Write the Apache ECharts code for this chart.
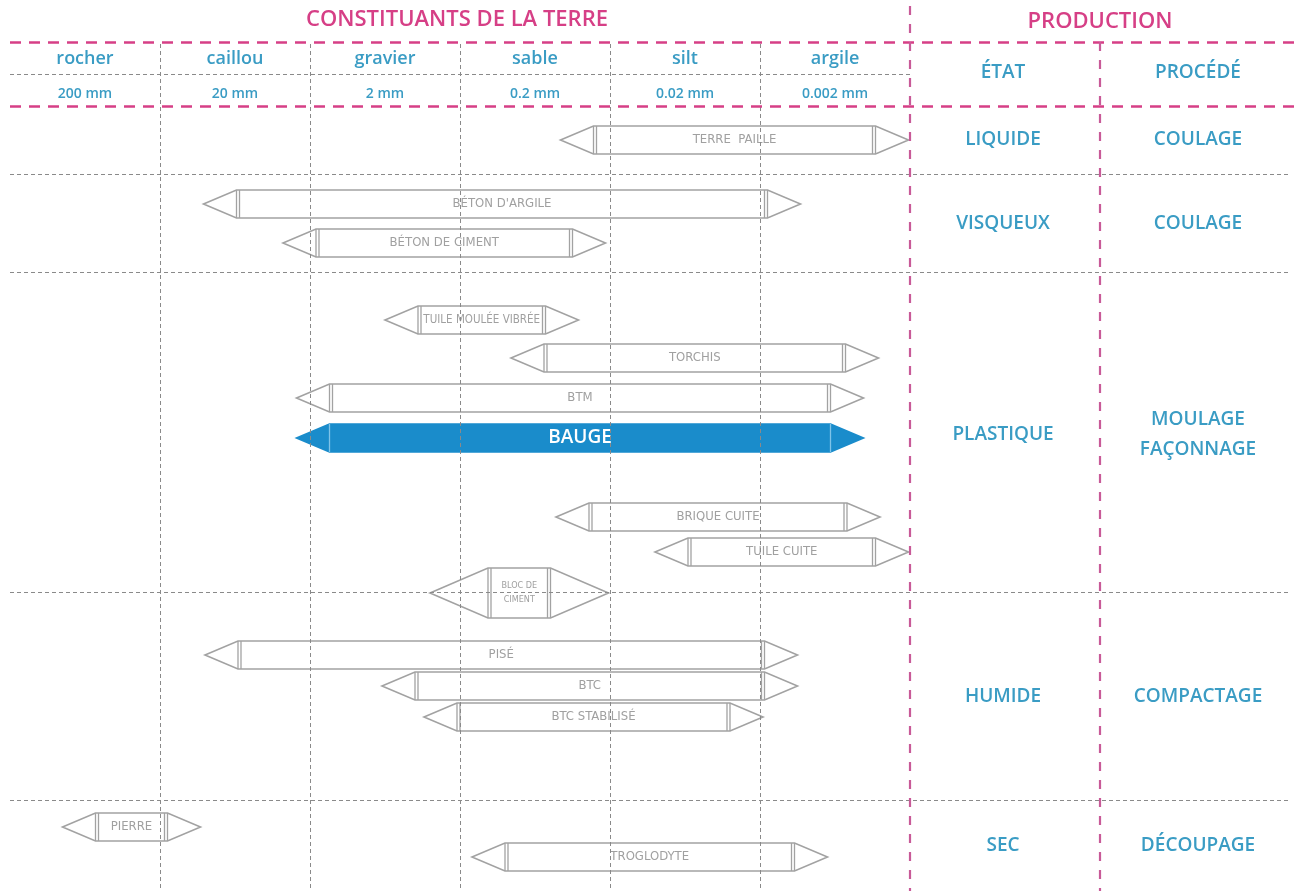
<!DOCTYPE html>
<html>
<head>
<meta charset="utf-8">
<script src="https://cdn.jsdelivr.net/npm/echarts@6/dist/echarts.min.js"></script>
<style>
  html, body { margin: 0; background: #fff; }
  #chart { width: 1300px; height: 891px; }
</style>
</head>
<body>
<div id="chart"></div>
<script>
// x axis: one unit per grain class (0 = coarse edge, 6 = end of argile)
const grainNames = ['rocher', 'caillou', 'gravier', 'sable', 'silt', 'argile'];
const grainSizes = ['200 mm', '20 mm', '2 mm', '0.2 mm', '0.02 mm', '0.002 mm'];

// production side, one entry per state band
const states    = ['LIQUIDE', 'VISQUEUX', 'PLASTIQUE', 'HUMIDE', 'SEC'];
const processes = ['COULAGE', 'COULAGE', 'MOULAGE\nFAÇONNAGE', 'COMPACTAGE', 'DÉCOUPAGE'];
const stateLane = [140, 224, 435, 697, 846];
const bandBreaks = [174, 272, 592, 800];

// techniques: arrow tip to arrow tip, in grain units, and the lane they sit on
const techniques = ['TERRE  PAILLE', "BÉTON D'ARGILE", 'BÉTON DE CIMENT', 'TUILE MOULÉE VIBRÉE',
  'TORCHIS', 'BTM', 'BAUGE', 'BRIQUE CUITE', 'TUILE CUITE', 'BLOC DE\nCIMENT',
  'PISÉ', 'BTC', 'BTC STABILISÉ', 'PIERRE', 'TROGLODYTE'];
const techFrom = [3.67, 1.29, 1.82, 2.50, 3.34, 1.91, 1.91, 3.64, 4.30, 2.80, 1.30, 2.48, 2.76, 0.35, 3.08];
const techTo   = [5.99, 5.27, 3.97, 3.79, 5.79, 5.69, 5.69, 5.80, 5.99, 3.99, 5.25, 5.25, 5.02, 1.27, 5.45];
const techLane = [140, 204, 243, 320, 358, 398, 438, 517, 552, 593, 655, 686, 717, 827, 857];
const HIGHLIGHT = 'BAUGE';

const PINK = '#d63f86';
const TEAL = '#3a9cc4';
const GREY = '#a2a2a2';
const FONT = '"Open Sans", "DejaVu Sans", sans-serif';
// bar captions are set in a narrow face in the source
const NARROW = '"Liberation Sans Narrow", "DejaVu Sans Condensed", "Open Sans", sans-serif';

const X_ETAT = 6.62, X_PROC = 7.92, X_SPLIT = 7.267;

const measure = document.createElement('canvas').getContext('2d');
function fitSize(text, size, room) {
  measure.font = size + 'px ' + NARROW;
  const w = Math.max(...text.split('\n').map(s => measure.measureText(s).width));
  return w > room ? Math.floor(size * room / w * 10) / 10 : size;
}

function renderTech(params, api) {
  const i = params.dataIndex;
  const a = api.coord([api.value(0), api.value(2)]);
  const b = api.coord([api.value(1), api.value(2)]);
  const name = techniques[i];
  const tall = name.indexOf('\n') >= 0;
  const h = tall ? 50 : 28;
  const head = tall ? 58 : 33;
  const y = a[1], t = y - h / 2, bt = y + h / 2;
  const bl = a[0] + head, br = b[0] - head;
  const hot = name === HIGHLIGHT;
  const kids = [{
    type: 'polygon',
    shape: { points: [[a[0], y], [bl, t], [br, t], [b[0], y], [br, bt], [bl, bt]] },
    style: { fill: hot ? '#1a8ccb' : '#fff', stroke: hot ? '#1a8ccb' : GREY, lineWidth: 1.6 }
  }];
  const edge = hot ? [[bl, '#7fc3e8'], [br, '#7fc3e8']]
                   : [[bl, GREY], [bl + 3, GREY], [br, GREY], [br - 3, GREY]];
  edge.forEach(([x, c]) => kids.push({
    type: 'line', shape: { x1: x, y1: t, x2: x, y2: bt },
    style: { stroke: c, lineWidth: 1.3 }
  }));
  const size = fitSize(name, tall ? 9 : 13, br - bl - 10);
  kids.push({
    type: 'text', x: (bl + br) / 2, y: y,
    style: {
      text: name, align: 'center', verticalAlign: 'middle',
      fill: hot ? '#fff' : '#a0a0a0',
      font: hot ? '600 19px ' + FONT : size + 'px ' + NARROW,
      lineHeight: tall ? 14 : 16
    }
  });
  return { type: 'group', children: kids };
}

function textSeries(xs, ys, texts, font, color, lh) {
  return {
    type: 'custom', z: 5, silent: true,
    data: xs.map((x, i) => [x, ys[i]]),
    renderItem: (params, api) => {
      const p = api.coord([api.value(0), api.value(1)]);
      return {
        type: 'text', x: p[0], y: p[1],
        style: { text: texts[params.dataIndex], align: 'center', verticalAlign: 'middle',
                 fill: color, font: font, lineHeight: lh || 24 }
      };
    }
  };
}

function seg(x1, y1, x2, y2, style) {
  return [{ coord: [x1, y1], lineStyle: style }, { coord: [x2, y2] }];
}

const greyDash = { color: '#8a8a8a', width: 1, type: [4, 3] };
const pinkDash = { color: PINK, width: 2.5, type: [11, 8] };
const pinkDashV = { color: '#c85a98', width: 2.2, type: [9, 9] };

const lines = [];
for (let k = 1; k < grainNames.length; k++) lines.push(seg(k, 44, k, 891, greyDash));
lines.push(seg(0, 74, 6, 74, greyDash));
bandBreaks.forEach(y => lines.push(seg(0, y, 8.53, y, greyDash)));
lines.push(seg(0, 42, 8.6, 42, pinkDash));
lines.push(seg(0, 106, 8.6, 106, pinkDash));
lines.push(seg(6, 6, 6, 891, pinkDashV));
lines.push(seg(X_SPLIT, 42, X_SPLIT, 891, pinkDashV));

const centers = grainNames.map((_, i) => i + 0.5);

const chart = echarts.init(document.getElementById('chart'), null, { renderer: 'canvas' });
chart.setOption({
  animation: false,
  backgroundColor: '#fff',
  grid: { left: 10, right: 0, top: 0, bottom: 0 },
  xAxis: { type: 'value', min: 0, max: 8.6, show: false },
  yAxis: { type: 'value', min: 0, max: 891, inverse: true, show: false },
  series: [
    {
      type: 'line', data: [], z: 1, silent: true,
      markLine: { silent: true, symbol: 'none', label: { show: false }, animation: false, data: lines }
    },
    {
      type: 'custom', z: 3, silent: true,
      data: techFrom.map((f, i) => [f, techTo[i], techLane[i]]),
      encode: { x: [0, 1], y: 2 },
      renderItem: renderTech
    },
    textSeries([2.98, X_SPLIT], [20, 22], ['CONSTITUANTS DE LA TERRE', 'PRODUCTION'], '600 22px ' + FONT, PINK),
    textSeries(centers, centers.map(() => 59), grainNames, '600 18px ' + FONT, TEAL),
    textSeries(centers, centers.map(() => 94), grainSizes, '600 14px ' + FONT, TEAL),
    textSeries([X_ETAT, X_PROC], [73, 73], ['ÉTAT', 'PROCÉDÉ'], '600 19px ' + FONT, TEAL),
    textSeries(states.map(() => X_ETAT), stateLane, states, '600 19px ' + FONT, TEAL),
    textSeries(processes.map(() => X_PROC), stateLane, processes, '600 19px ' + FONT, TEAL, 30)
  ]
});
window.addEventListener('resize', () => chart.resize());
</script>
</body>
</html>
